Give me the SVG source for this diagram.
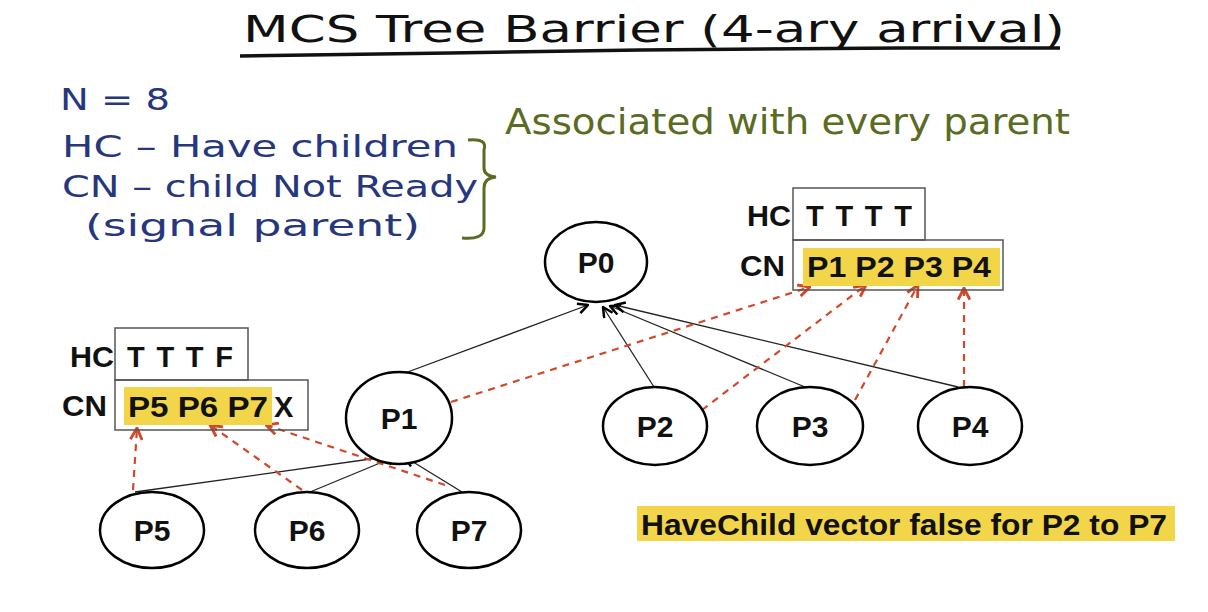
<svg xmlns="http://www.w3.org/2000/svg" width="1208" height="612" viewBox="0 0 1208 612">
<defs>
<style>
.node ellipse{fill:#fff;stroke:#000;stroke-width:2.5}
.node text{font-family:"Liberation Sans",Arial,sans-serif;font-weight:bold;font-size:30px;fill:#111;text-anchor:middle}
.lbl{font-family:"Liberation Sans",Arial,sans-serif;font-weight:bold;font-size:29px;fill:#111}
.box{fill:none;stroke:#555;stroke-width:1.5}
.hl{fill:#f3d54a}
.hand{font-family:"DejaVu Sans",sans-serif;font-size:31px;fill:#27377e}
.green{font-family:"DejaVu Sans",sans-serif;font-size:36px;fill:#5a6b22}
.tree{stroke:#222;stroke-width:1.3;fill:none;marker-end:url(#ah)}
.sig{stroke:#d2482a;stroke-width:2.2;fill:none;stroke-dasharray:7 6;marker-end:url(#rh)}
</style>
<marker id="ah" viewBox="0 0 12 12" refX="11" refY="6" markerWidth="12" markerHeight="12" orient="auto" markerUnits="userSpaceOnUse">
<path d="M1,1 L11,6 L1,11" fill="none" stroke="#000" stroke-width="2.5"/>
</marker>
<marker id="rh" viewBox="0 0 12 12" refX="11" refY="6" markerWidth="14" markerHeight="14" orient="auto" markerUnits="userSpaceOnUse">
<path d="M1,1 L11,6 L1,11" fill="none" stroke="#d2482a" stroke-width="2.5"/>
</marker>
</defs>
<rect width="1208" height="612" fill="#fff"/>

<g id="title">
<text x="243" y="42" font-family="DejaVu Sans,sans-serif" font-size="38" fill="#111" textLength="822" lengthAdjust="spacingAndGlyphs">MCS Tree Barrier (4-ary arrival)</text>
<path d="M240,56 L450,53 L640,50 L900,48 L1060,48" fill="none" stroke="#111" stroke-width="3.5"/>
</g>

<g id="legend">
<text class="hand" x="60" y="110" textLength="110" lengthAdjust="spacingAndGlyphs">N = 8</text>
<text class="hand" x="62" y="157" textLength="396" lengthAdjust="spacingAndGlyphs">HC – Have children</text>
<text class="hand" x="62" y="197" textLength="416" lengthAdjust="spacingAndGlyphs">CN – child Not Ready</text>
<text class="hand" x="85" y="236" textLength="335" lengthAdjust="spacingAndGlyphs">(signal parent)</text>
<path d="M468,140 Q488,138 484,150 L484,168 Q484,176 496,177 Q484,178 484,188 L484,228 Q484,240 462,238" fill="none" stroke="#5a6b22" stroke-width="3"/>
<text class="green" x="505" y="134" textLength="565" lengthAdjust="spacingAndGlyphs">Associated with every parent</text>
</g>

<g id="connectors">
<line class="tree" x1="405" y1="373" x2="588" y2="305"/>
<line class="tree" x1="654" y1="387" x2="603" y2="307"/>
<line class="tree" x1="805" y1="387" x2="610" y2="306"/>
<line class="tree" x1="958" y1="387" x2="615" y2="305"/>
<line class="tree" x1="135" y1="492" x2="392" y2="456"/>
<line class="tree" x1="310" y1="492" x2="397" y2="456"/>
<line class="tree" x1="462" y1="492" x2="405" y2="457"/>
<line class="sig" x1="451" y1="402" x2="810" y2="287"/>
<line class="sig" x1="702" y1="410" x2="866" y2="285"/>
<line class="sig" x1="855" y1="400" x2="918" y2="285" stroke-dasharray="3 7"/>
<line class="sig" x1="964" y1="387" x2="964" y2="288"/>
<line class="sig" x1="133" y1="490" x2="137" y2="428"/>
<line class="sig" x1="302" y1="490" x2="210" y2="425"/>
<line class="sig" x1="445" y1="485" x2="266" y2="425"/>
</g>

<g id="P0" class="node"><ellipse cx="596" cy="262" rx="51" ry="40"/><text x="596" y="273">P0</text></g>
<g id="P1" class="node"><ellipse cx="399" cy="418" rx="53" ry="46"/><text x="399" y="429">P1</text></g>
<g id="P2" class="node"><ellipse cx="655" cy="426" rx="52" ry="39"/><text x="655" y="437">P2</text></g>
<g id="P3" class="node"><ellipse cx="810" cy="426" rx="53" ry="39"/><text x="810" y="437">P3</text></g>
<g id="P4" class="node"><ellipse cx="970" cy="426" rx="52" ry="39"/><text x="970" y="437">P4</text></g>
<g id="P5" class="node"><ellipse cx="152" cy="530" rx="52" ry="38"/><text x="152" y="541">P5</text></g>
<g id="P6" class="node"><ellipse cx="307" cy="530" rx="52" ry="38"/><text x="307" y="541">P6</text></g>
<g id="P7" class="node"><ellipse cx="469" cy="530" rx="52" ry="38"/><text x="469" y="541">P7</text></g>

<g id="P0-vectors">
<text class="lbl" x="747" y="226" textLength="44" lengthAdjust="spacingAndGlyphs">HC</text>
<rect class="box" x="793" y="188" width="132" height="52"/>
<text class="lbl" x="806" y="226" textLength="106" lengthAdjust="spacing">T T T T</text>
<text class="lbl" x="740" y="276" textLength="45" lengthAdjust="spacingAndGlyphs">CN</text>
<rect class="hl" x="803" y="248" width="197" height="38"/>
<rect class="box" x="793" y="240" width="210" height="50"/>
<text class="lbl" x="807" y="277" fill="#4a3a10" textLength="184" lengthAdjust="spacingAndGlyphs">P1 P2 P3 P4</text>
</g>

<g id="P1-vectors">
<text class="lbl" x="70" y="367" textLength="44" lengthAdjust="spacingAndGlyphs">HC</text>
<rect class="box" x="115" y="328" width="133" height="52"/>
<text class="lbl" x="127" y="367" textLength="106" lengthAdjust="spacing">T T T F</text>
<text class="lbl" x="62" y="416" textLength="45" lengthAdjust="spacingAndGlyphs">CN</text>
<rect class="hl" x="124" y="387" width="148" height="38"/>
<rect class="box" x="115" y="380" width="193" height="50"/>
<text class="lbl" x="128" y="417" fill="#4a3a10" textLength="140" lengthAdjust="spacingAndGlyphs">P5 P6 P7</text>
<text class="lbl" x="274" y="417">X</text>
</g>

<g id="note">
<rect class="hl" x="637" y="506" width="538" height="35"/>
<text class="lbl" x="641" y="535" font-size="26" fill="#3a2a08" textLength="526" lengthAdjust="spacingAndGlyphs">HaveChild vector false for P2 to P7</text>
</g>
</svg>
